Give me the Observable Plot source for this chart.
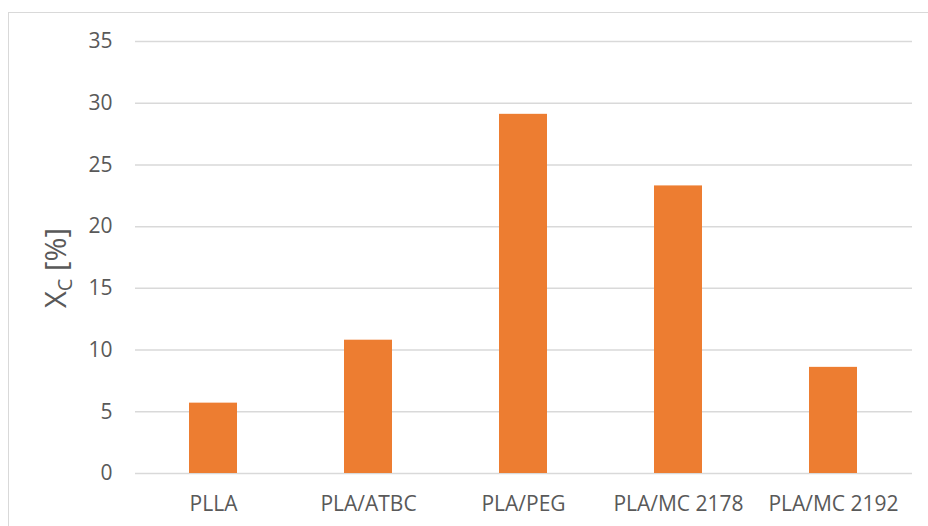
<!DOCTYPE html>
<html>
<head>
<meta charset="utf-8">
<script src="https://cdn.jsdelivr.net/npm/d3@7"></script>
<script src="https://cdn.jsdelivr.net/npm/@observablehq/plot@0.6"></script>
<style>
  html, body { margin: 0; padding: 0; background: #fff; overflow: hidden; }
  #wrap { position: relative; width: 928px; height: 526px; }
  #border { position: absolute; left: 8px; top: 12px; width: 1000px; height: 1000px; border: 1px solid #d9d9d9; box-sizing: border-box; }
  #chart { position: absolute; left: 0; top: 0; }
</style>
</head>
<body>
<div id="wrap"><div id="border"></div><div id="chart"></div></div>
<script>
const categories = ["PLLA", "PLA/ATBC", "PLA/PEG", "PLA/MC 2178", "PLA/MC 2192"];
const values = [5.7, 10.8, 29.1, 23.3, 8.6];
const yTicks = [0, 5, 10, 15, 20, 25, 30, 35];

const data = categories.map((c, i) => ({category: c, value: values[i]}));

const plot = Plot.plot({
  width: 928,
  height: 526,
  marginLeft: 135,
  marginRight: 16,
  marginTop: 41,
  marginBottom: 53,
  style: {fontFamily: "'Open Sans', sans-serif", fontSize: "21px", color: "#595959", background: "transparent"},
  x: {domain: categories, paddingInner: 0.688, paddingOuter: 0.344, label: null},
  y: {domain: [0, 35], ticks: yTicks, label: null},
  marks: [
    Plot.gridY(yTicks, {stroke: "#d9d9d9", strokeOpacity: 1, strokeWidth: 1.5}),
    Plot.barY(data, {x: "category", y: "value", fill: "#ED7D31"}),
    Plot.axisY(yTicks, {tickSize: 0, tickPadding: 23, fill: "#595959", fontSize: 21, label: null}),
    Plot.axisX({tickSize: 0, tickPadding: 23, fill: "#595959", fontSize: 21, label: null})
  ]
});
document.getElementById("chart").appendChild(plot);

// y-axis title with subscript
const svg = d3.select(plot);
const t = svg.append("text")
  .attr("transform", "translate(66,268) rotate(-90)")
  .attr("text-anchor", "middle")
  .attr("fill", "#595959")
  .attr("font-family", "'Open Sans', sans-serif")
  .attr("font-size", 29);
t.append("tspan").text("X");
t.append("tspan").attr("font-size", 20).attr("dy", 6).text("C");
t.append("tspan").attr("dy", -6).text(" [%]");
</script>
</body>
</html>
